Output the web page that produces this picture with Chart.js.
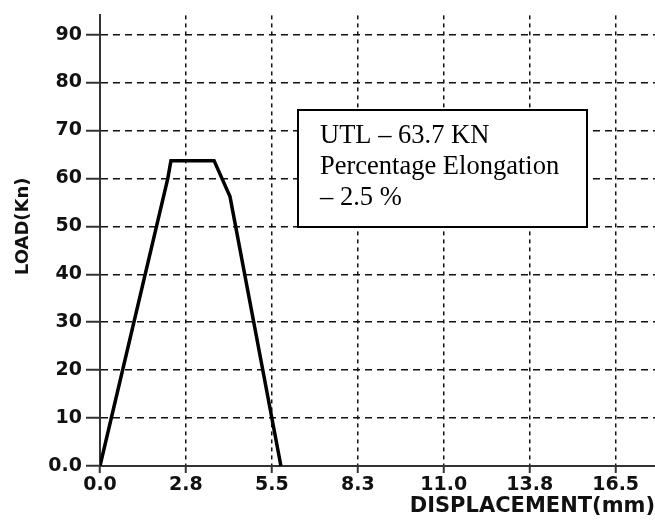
<!DOCTYPE html>
<html>
<head>
  <title>Load vs Displacement</title>
  <script src="https://cdn.jsdelivr.net/npm/chart.js"></script>
  <style>
    body { margin: 0; background: #fff; }
  </style>
</head>
<body>
  <canvas id="chart" width="655" height="520"></canvas>

  <script>
    // Load-displacement curve of the tensile test
    const displacement = [0, 2.17, 2.27, 3.65, 4.16, 5.79];
    const load = [0, 60, 63.7, 63.7, 56.2, 0];

    // Axis ticks
    const xTicks = [0, 2.75, 5.5, 8.25, 11, 13.75, 16.5];
    const xTickLabels = ['0.0', '2.8', '5.5', '8.3', '11.0', '13.8', '16.5'];
    const yTicks = [0, 10, 20, 30, 40, 50, 60, 70, 80, 90];
    const yTickLabels = ['0.0', '10', '20', '30', '40', '50', '60', '70', '80', '90'];

    // Result note
    const noteLines = ['UTL \u2013 63.7 KN', 'Percentage Elongation', '\u2013 2.5 %'];

    const points = displacement.map((d, i) => ({ x: d, y: load[i] }));

    const tickFont = { family: 'DejaVu Sans', weight: 'bold', size: 19 };

    // Draws the boxed note and the rotated y title
    const notePlugin = {
      id: 'note',
      afterDraw(chart) {
        const ctx = chart.ctx;
        const xs = chart.scales.x;
        const ys = chart.scales.y;

        const left = Math.round(xs.getPixelForValue(6.34));
        const right = Math.round(xs.getPixelForValue(15.58));
        const top = Math.round(ys.getPixelForValue(74.2));
        const bottom = Math.round(ys.getPixelForValue(49.9));

        ctx.save();
        ctx.fillStyle = '#fff';
        ctx.fillRect(left, top, right - left, bottom - top);
        ctx.strokeStyle = '#000';
        ctx.lineWidth = 2;
        ctx.strokeRect(left, top, right - left, bottom - top);

        ctx.fillStyle = '#000';
        ctx.font = '26.5px "Liberation Serif"';
        ctx.textAlign = 'left';
        ctx.textBaseline = 'alphabetic';
        noteLines.forEach((line, i) => {
          ctx.fillText(line, left + 22, top + 33 + i * 31);
        });

        // y axis title
        ctx.font = 'bold 18px "DejaVu Sans"';
        ctx.fillStyle = '#111';
        ctx.translate(23, ys.getPixelForValue(50));
        ctx.rotate(-Math.PI / 2);
        ctx.textAlign = 'center';
        ctx.textBaseline = 'middle';
        ctx.fillText('LOAD(Kn)', 0, 0);
        ctx.restore();
      }
    };

    new Chart(document.getElementById('chart').getContext('2d'), {
      type: 'line',
      data: {
        datasets: [{
          data: points,
          borderColor: '#000',
          borderWidth: 3.5,
          pointRadius: 0,
          tension: 0,
          fill: false
        }]
      },
      options: {
        responsive: false,
        animation: false,
        layout: { padding: { top: 5, right: 0, bottom: 0, left: 0 } },
        plugins: {
          legend: { display: false },
          tooltip: { enabled: false }
        },
        scales: {
          x: {
            type: 'linear',
            min: 0,
            max: 17.76,
            afterBuildTicks: scale => { scale.ticks = xTicks.map(v => ({ value: v })); },
            afterFit: scale => { scale.height = 54; },
            ticks: {
              callback: (v, i) => xTickLabels[i],
              font: tickFont,
              color: '#111',
              padding: 1,
              maxRotation: 0
            },
            grid: {
              color: '#111',
              lineWidth: 1.5,
              tickLength: 7,
              tickColor: '#333',
              tickWidth: 2
            },
            border: { color: '#333', width: 2, dash: [4, 4] },
            title: {
              display: true,
              text: 'DISPLACEMENT(mm)',
              align: 'end',
              color: '#111',
              font: { family: 'DejaVu Sans', weight: 'bold', size: 21 },
              padding: { top: 0, bottom: 1 }
            }
          },
          y: {
            min: 0,
            max: 94,
            afterBuildTicks: scale => { scale.ticks = yTicks.map(v => ({ value: v })); },
            afterFit: scale => { scale.width = 100; },
            ticks: {
              callback: (v, i) => yTickLabels[i],
              font: tickFont,
              color: '#111',
              padding: 4
            },
            grid: {
              color: '#111',
              lineWidth: 1.5,
              tickLength: 14,
              tickColor: '#333',
              tickWidth: 2
            },
            border: { color: '#333', width: 2, dash: [7, 5] }
          }
        }
      },
      plugins: [notePlugin]
    });
  </script>
</body>
</html>
